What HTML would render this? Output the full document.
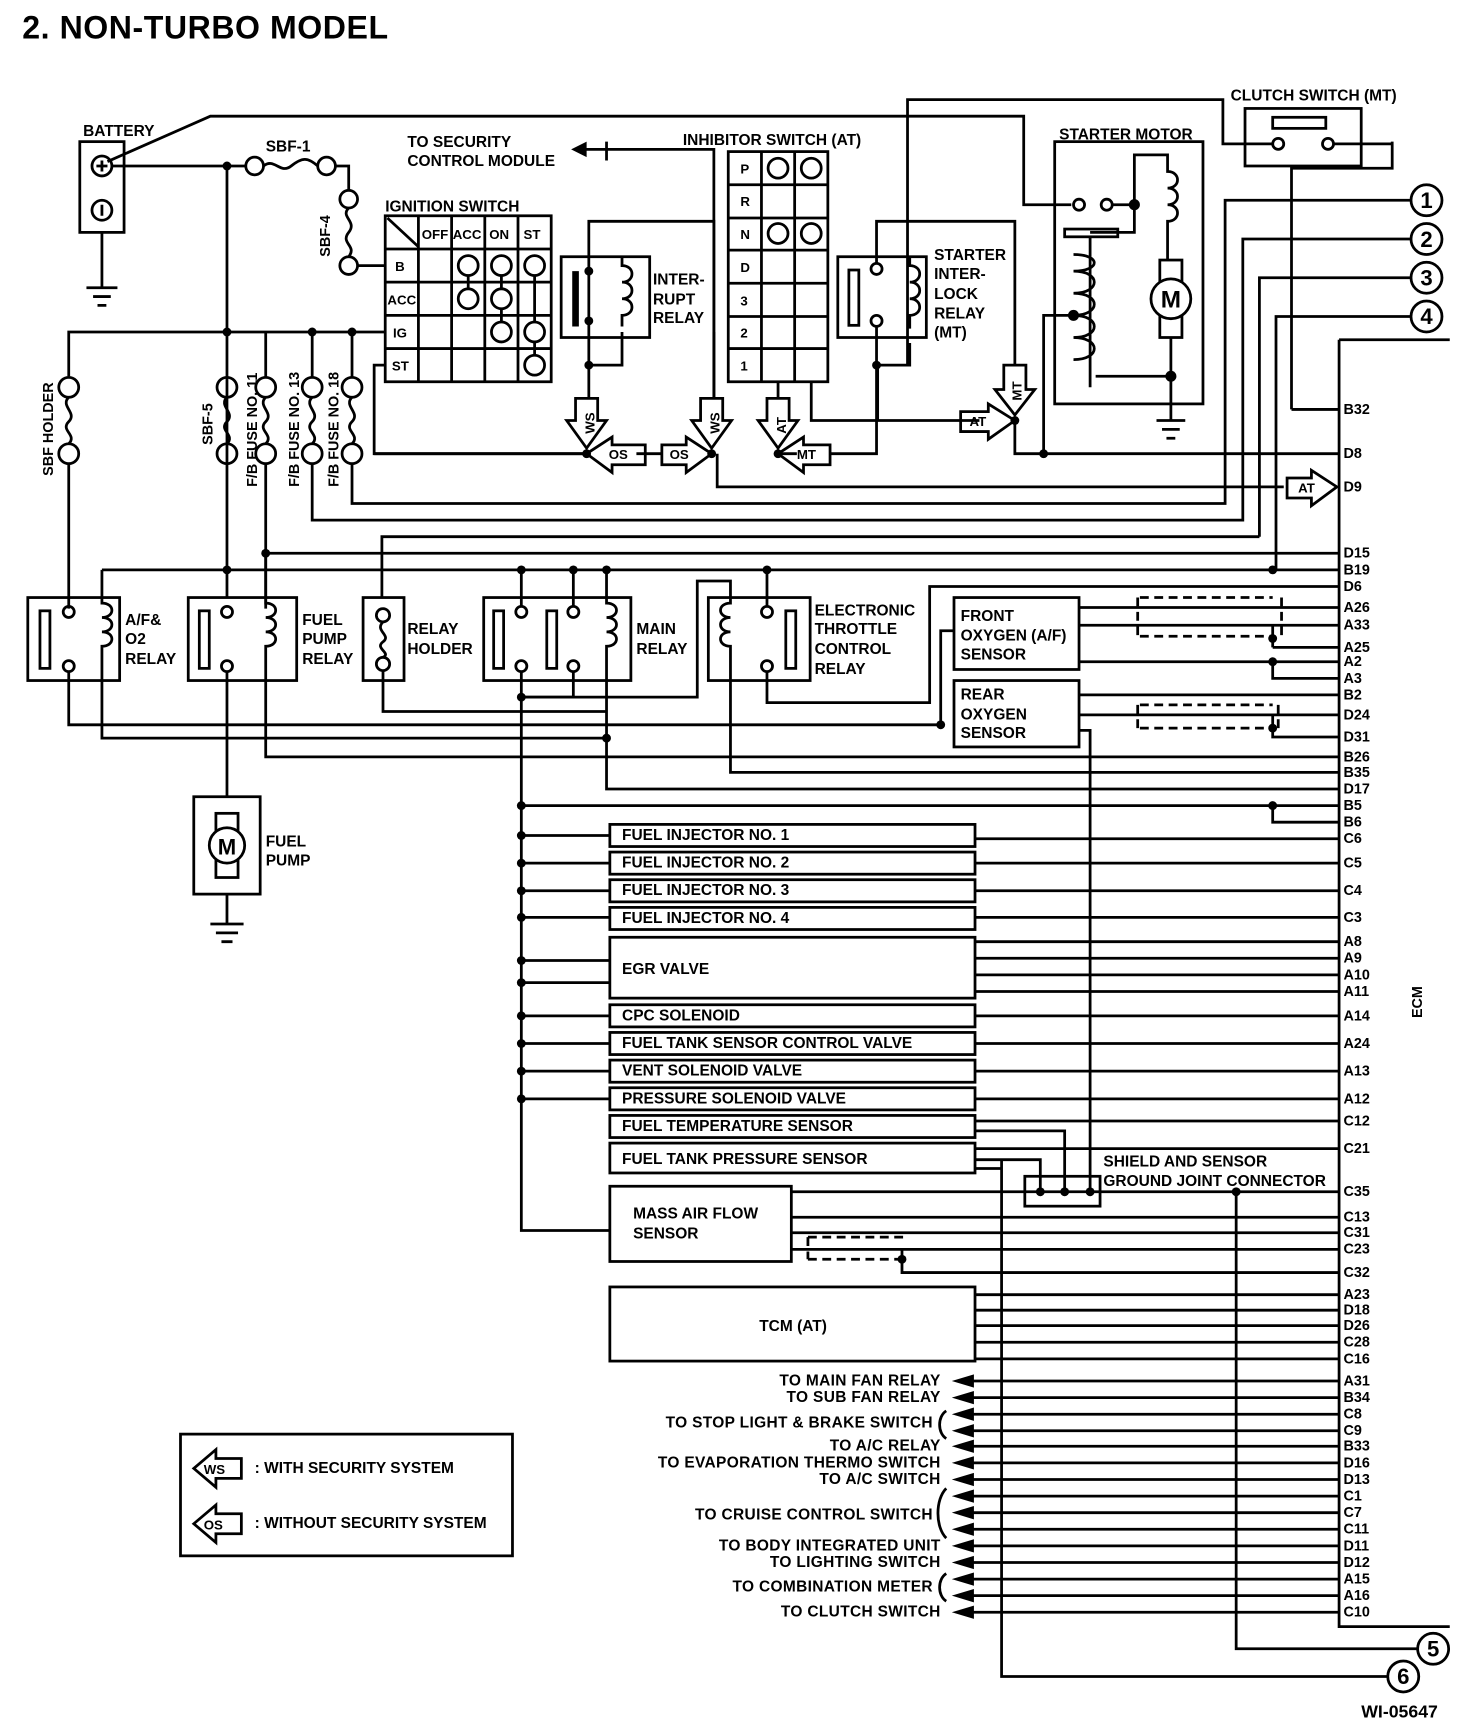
<!DOCTYPE html>
<html><head><meta charset="utf-8"><style>
html,body{margin:0;padding:0;background:#fff}
svg{display:block}
text{font-family:"Liberation Sans",sans-serif;font-weight:bold;fill:#000}
</style></head><body>
<svg width="1472" height="1734" viewBox="0 0 1330 1567" xmlns="http://www.w3.org/2000/svg">
<g fill="none" stroke="#000" stroke-width="2.5">
<!-- battery -->
<rect x="72" y="128" width="40" height="82"/>
<circle cx="92" cy="150" r="9"/><circle cx="92" cy="190" r="9"/>
<path d="M87 150h10M92 145v10M92 185v10"/>
<path d="M92 210v50M78 260h28M84 268h16M88 276h8"/>
<path d="M97 146L190 105H925V185H968"/>
<circle cx="975" cy="185" r="5"/><circle cx="1000" cy="185" r="5"/>
<path d="M1005 185H1025"/>
<path d="M101 150H222"/>
<circle cx="230" cy="150" r="8"/><circle cx="295" cy="150" r="8"/>
<path d="M238 150c10-8 15 8 25 0s15 -8 24 0"/>
<path d="M303 150H315V172"/>
<circle cx="315" cy="180" r="8"/><circle cx="315" cy="240" r="8"/>
<path d="M315 188c-8 8 8 12 0 22s8 12 0 22"/>
<path d="M323 240H348"/>
<path d="M205 150V515"/>
<!-- ignition switch -->
<rect x="348" y="195" width="150" height="150"/>
<path d="M378 195V345M408 195V345M438 195V345M468 195V345M348 225H498M348 255H498M348 285H498M348 315H498M350 197L378 223"/>
<circle cx="423" cy="240" r="9"/><circle cx="453" cy="240" r="9"/><circle cx="483" cy="240" r="9"/>
<circle cx="423" cy="270" r="9"/><circle cx="453" cy="270" r="9"/>
<circle cx="453" cy="300" r="9"/><circle cx="483" cy="300" r="9"/><circle cx="483" cy="330" r="9"/>
<path d="M423 249V261M453 249V261M453 279V291M483 249V291M483 309V321"/>
<path d="M62 340V300H348M282 300V342M318 300V342M205 300"/>
<path d="M348 330H338V410H530"/>
<!-- fuses -->
<circle cx="62" cy="350" r="9"/><circle cx="62" cy="410" r="9"/><path d="M62 359c-8 8 8 14 0 22s8 12 0 20"/>
<circle cx="205" cy="350" r="9"/><circle cx="205" cy="410" r="9"/><path d="M205 359c-8 8 8 14 0 22s8 12 0 20"/>
<circle cx="240" cy="350" r="9"/><circle cx="240" cy="410" r="9"/><path d="M240 359c-8 8 8 14 0 22s8 12 0 20"/>
<circle cx="282" cy="350" r="9"/><circle cx="282" cy="410" r="9"/><path d="M282 359c-8 8 8 14 0 22s8 12 0 20"/>
<circle cx="318" cy="350" r="9"/><circle cx="318" cy="410" r="9"/><path d="M318 359c-8 8 8 14 0 22s8 12 0 20"/>
<path d="M240 341V300M62 419V550M240 419V550M282 419V470H1123V216H1275M318 419V455H1107V181H1275"/>
<path d="M1138 485V251H1275M1153 515V286H1275M345 540V485H1138"/>
<path d="M1167 370V152H1258V128"/>
<!-- clutch switch -->
<rect x="1125" y="98" width="105" height="52"/><rect x="1150" y="106" width="48" height="10"/>
<circle cx="1155" cy="130" r="5"/><circle cx="1200" cy="130" r="5"/>
<path d="M820 330V90H1105V130H1150M1205 130H1258"/>
<path d="M1167 370H1210M1210 307H1310M1210 307V1470H1310"/>
<!-- numbered circles -->
<circle cx="1289" cy="181" r="14"/><circle cx="1289" cy="216" r="14"/><circle cx="1289" cy="251" r="14"/><circle cx="1289" cy="286" r="14"/>
<circle cx="1295" cy="1490" r="14"/><circle cx="1268" cy="1515" r="14"/>
<path d="M1117 1077V1490H1281M905 1048V1515H1254"/>
<!-- interrupt relay -->
<rect x="507" y="232" width="80" height="73"/>
<path d="M520 245V295" stroke-width="6"/>
<path d="M532 330V200H645V360M532 245V200M562 232v8c12 0 12 15 0 15 12 0 12 15 0 15 12 0 12 15 0 15v10M532 330V360M532 330H562V300"/>
<path d="M548 145V128M520 135H548" /><path d="M645 360V135H548"/>
<!-- inhibitor -->
<rect x="658" y="137" width="90" height="208"/>
<path d="M688 137V345M718 137V345M658 167H748M658 197H748M658 226H748M658 256H748M658 286H748M658 315H748"/>
<circle cx="703" cy="152" r="9"/><circle cx="733" cy="152" r="9"/><circle cx="703" cy="211" r="9"/><circle cx="733" cy="211" r="9"/>
<path d="M703 345V360M733 345V380H885M793 380V330"/>
<!-- starter interlock relay -->
<rect x="757" y="232" width="80" height="73"/><rect x="767" y="244" width="9" height="50"/>
<circle cx="792" cy="243" r="5"/><circle cx="792" cy="290" r="5"/>
<path d="M792 238V200H917V330M792 295V410H750M822 232v8c12 0 12 15 0 15 12 0 12 15 0 15 12 0 12 15 0 15v12M822 310V330H792"/>
<path d="M917 380V410H1210M943 410V285H970"/>
<!-- starter motor -->
<rect x="953" y="128" width="134" height="237"/>
<path d="M1025 185V140H1055V155c12 0 12 15 0 15 12 0 12 15 0 15 12 0 12 15 0 15V235M1025 185V210H985"/>
<rect x="962" y="207" width="48" height="7"/><path d="M985 214V350"/>
<path d="M970 230c25 0 25 15 0 15c25 0 25 20 0 20c25 0 25 20 0 20c25 0 25 20 0 20c25 0 25 20 0 20"/>
<rect x="1048" y="235" width="20" height="70"/><circle cx="1058" cy="270" r="18" fill="#fff"/>
<path d="M1058 305V380M990 340H1058M1045 380h26M1050 388h16M1054 396h8"/>
<path d="M338 410H530M575 410H598M648 410V440H1160M703 410H720M645 300V360"/>
<path d="M240 500H1210M92 515H1210M205 515V540"/>
<!-- A/F relay -->
<rect x="25" y="540" width="83" height="75"/><rect x="36" y="552" width="9" height="52"/>
<circle cx="62" cy="553" r="5"/><circle cx="62" cy="602" r="5"/>
<path d="M92 515V545c12 0 12 13 0 13 12 0 12 13 0 13 12 0 12 13 0 13V615"/>
<path d="M62 607V655H850M92 615V667H548"/>
<!-- fuel pump relay -->
<rect x="170" y="540" width="98" height="75"/><rect x="180" y="552" width="9" height="52"/>
<circle cx="205" cy="553" r="5"/><circle cx="205" cy="602" r="5"/>
<path d="M240 500V545c12 0 12 13 0 13 12 0 12 13 0 13 12 0 12 13 0 13V615M240 615V684H1210"/>
<path d="M205 607V720"/>
<rect x="175" y="720" width="60" height="88"/><rect x="195" y="735" width="20" height="58"/><circle cx="205" cy="764" r="16" fill="#fff"/>
<path d="M205 808V835M190 835h30M195 843h20M200 851h10"/>
<!-- relay holder -->
<rect x="328" y="540" width="37" height="75"/>
<circle cx="346" cy="556" r="6"/><circle cx="346" cy="600" r="6"/><path d="M346 562c-8 8 8 12 0 18s8 10 0 14M346 606V643H548"/>
<!-- main relay -->
<rect x="437" y="540" width="133" height="75"/><rect x="446" y="552" width="9" height="52"/><rect x="494" y="552" width="9" height="52"/>
<circle cx="471" cy="553" r="5"/><circle cx="471" cy="602" r="5"/><circle cx="518" cy="553" r="5"/><circle cx="518" cy="602" r="5"/>
<path d="M471 515V548M518 515V548M548 515V545c12 0 12 13 0 13 12 0 12 13 0 13 12 0 12 13 0 13V615"/>
<path d="M471 607V1112H551M518 607V630H471M548 615V713H1210"/>
<path d="M471 630H630V525H660V540"/>
<!-- ETC relay -->
<rect x="640" y="540" width="92" height="75"/><rect x="710" y="552" width="9" height="52"/>
<circle cx="693" cy="553" r="5"/><circle cx="693" cy="602" r="5"/>
<path d="M693 515V548M693 607V635H840V530H1210M660 540v5c-12 0-12 13 0 13-12 0-12 13 0 13-12 0-12 13 0 13V615M660 615V698H1210"/>
<!-- O2 sensors -->
<rect x="862" y="540" width="113" height="65"/><rect x="862" y="615" width="113" height="60"/>
<path d="M975 549H1210M975 565H1210M975 598H1210M1150 585H1210M1150 565V585M1150 598V613H1210"/>
<path d="M850 655V570H862M975 628H1210M975 646H1210M1150 646V666H1210M975 660H985V1077"/>
<path d="M1150 728V743H1210M471 728H1210" />
<path stroke-dasharray="8,5" d="M1030 540H1150M1030 575H1150M1028 540V575M1158 540V575M1030 637H1150M1030 658H1150M1028 637V658M1155 637V658"/>
<!-- component boxes -->
<rect x="551" y="745" width="330" height="20"/><rect x="551" y="770" width="330" height="20"/><rect x="551" y="795" width="330" height="20"/><rect x="551" y="820" width="330" height="20"/>
<rect x="551" y="847" width="330" height="55"/>
<rect x="551" y="908" width="330" height="20"/><rect x="551" y="933" width="330" height="20"/><rect x="551" y="958" width="330" height="20"/><rect x="551" y="983" width="330" height="20"/><rect x="551" y="1008" width="330" height="20"/><rect x="551" y="1033" width="330" height="27"/>
<rect x="551" y="1072" width="164" height="68"/>
<rect x="551" y="1163" width="330" height="67"/>
<path d="M471 755H551M471 780H551M471 805H551M471 829H551M471 868H551M471 888H551M471 918H551M471 943H551M471 968H551M471 993H551"/>
<path d="M881 758H1210M881 780H1210M881 805H1210M881 829H1210M881 851H1210M881 866H1210M881 881H1210M881 896H1210M881 918H1210M881 943H1210M881 968H1210M881 993H1210M881 1013H1210M881 1038H1210"/>
<path d="M881 1022H962V1077M881 1048H940V1077M881 1056H905"/>
<rect x="926" y="1063" width="68" height="27"/>
<path d="M715 1077H1210M715 1100H1210M715 1114H1210M715 1129H1210M815 1129V1150H1210"/>
<path stroke-dasharray="8,5" d="M730 1118H818M730 1138H818M730 1118V1138"/>
<path d="M881 1170H1210M881 1184H1210M881 1198H1210M881 1213H1210M881 1228H1210"/>
<path d="M870 1248H1210M870 1263H1210M870 1278H1210M870 1293H1210M870 1307H1210M870 1322H1210M870 1337H1210M870 1352H1210M870 1367H1210M870 1382H1210M870 1397H1210M870 1412H1210M870 1427H1210M870 1442H1210M870 1457H1210"/>
<path d="M855 1275c-8 5-8 20 0 25M855 1345c-10 10-10 35 0 45M855 1422c-8 5-8 20 0 25"/>
<!-- legend -->
<rect x="163" y="1296" width="300" height="110"/>
<path d="M175 1327L195 1310V1318H218V1336H195V1344Z"/>
<path d="M175 1377L195 1360V1368H218V1386H195V1394Z"/>
<path d="M520 360H540V380H548L530 405L512 380H520Z M633 360H653V380H661L643 405L625 380H633Z M693 360H713V380H721L703 405L685 380H693Z M907 330H927V352H935L917 375L899 352H907Z"/>
<path d="M530 410L553 395V402H583V420H553V427Z M643 410L620 395V402H598V420H620V427Z M703 410L726 395V402H750V420H726V427Z M917 380L893 365V372H868V390H893V397Z M1208 440L1185 425V432H1163V450H1185V457Z"/>
</g>
<g fill="#000">
<circle cx="205" cy="150" r="4"/><circle cx="205" cy="300" r="4"/><circle cx="282" cy="300" r="4"/><circle cx="318" cy="300" r="4"/>
<circle cx="532" cy="245" r="4"/><circle cx="532" cy="290" r="4"/><circle cx="532" cy="330" r="4"/><circle cx="792" cy="330" r="4"/>
<circle cx="1025" cy="185" r="5"/><circle cx="970" cy="285" r="5"/><circle cx="1058" cy="340" r="5"/>
<circle cx="943" cy="410" r="4"/><circle cx="530" cy="410" r="4"/><circle cx="643" cy="410" r="4"/><circle cx="703" cy="410" r="4"/><circle cx="917" cy="380" r="4"/>
<circle cx="240" cy="500" r="4"/><circle cx="205" cy="515" r="4"/><circle cx="471" cy="515" r="4"/><circle cx="518" cy="515" r="4"/><circle cx="548" cy="515" r="4"/><circle cx="693" cy="515" r="4"/><circle cx="1150" cy="515" r="4"/>
<circle cx="471" cy="630" r="4"/><circle cx="548" cy="667" r="4"/><circle cx="850" cy="655" r="4"/><circle cx="1150" cy="577" r="4"/><circle cx="1150" cy="598" r="4"/><circle cx="1150" cy="658" r="4"/><circle cx="1150" cy="728" r="4"/>
<circle cx="471" cy="728" r="4"/><circle cx="471" cy="755" r="4"/><circle cx="471" cy="780" r="4"/><circle cx="471" cy="805" r="4"/><circle cx="471" cy="829" r="4"/><circle cx="471" cy="868" r="4"/><circle cx="471" cy="888" r="4"/><circle cx="471" cy="918" r="4"/><circle cx="471" cy="943" r="4"/><circle cx="471" cy="968" r="4"/><circle cx="471" cy="993" r="4"/>
<circle cx="940" cy="1077" r="4"/><circle cx="962" cy="1077" r="4"/><circle cx="985" cy="1077" r="4"/><circle cx="1117" cy="1077" r="4"/><circle cx="815" cy="1138" r="4"/>
<path d="M860 1248l20-6v12z M860 1263l20-6v12z M860 1278l20-6v12z M860 1293l20-6v12z M860 1307l20-6v12z M860 1322l20-6v12z M860 1337l20-6v12z M860 1352l20-6v12z M860 1367l20-6v12z M860 1382l20-6v12z M860 1397l20-6v12z M860 1412l20-6v12z M860 1427l20-6v12z M860 1442l20-6v12z M860 1457l20-6v12z"/>
<path d="M516 135l14-7v14z"/>
</g>
<text x="20" y="35" font-size="29" letter-spacing="0.5">2.  NON-TURBO MODEL</text>
<g font-size="14">
<text x="75" y="123">BATTERY</text><text x="240" y="137">SBF-1</text>
<text x="368" y="133">TO SECURITY</text><text x="368" y="150">CONTROL MODULE</text>
<text x="617" y="131">INHIBITOR SWITCH (AT)</text><text x="957" y="126">STARTER MOTOR</text><text x="1112" y="91">CLUTCH SWITCH (MT)</text>
<text x="348" y="191">IGNITION SWITCH</text>
<text x="590" y="257">INTER-</text><text x="590" y="275">RUPT</text><text x="590" y="292">RELAY</text>
<text x="844" y="235">STARTER</text><text x="844" y="252">INTER-</text><text x="844" y="270">LOCK</text><text x="844" y="288">RELAY</text><text x="844" y="305">(MT)</text>
<text x="113" y="565">A/F&amp;</text><text x="113" y="582">O2</text><text x="113" y="600">RELAY</text>
<text x="273" y="565">FUEL</text><text x="273" y="582">PUMP</text><text x="273" y="600">RELAY</text>
<text x="368" y="573">RELAY</text><text x="368" y="591">HOLDER</text>
<text x="575" y="573">MAIN</text><text x="575" y="591">RELAY</text>
<text x="736" y="556">ELECTRONIC</text><text x="736" y="573">THROTTLE</text><text x="736" y="591">CONTROL</text><text x="736" y="609">RELAY</text>
<text x="868" y="561">FRONT</text><text x="868" y="579">OXYGEN (A/F)</text><text x="868" y="596">SENSOR</text>
<text x="868" y="632">REAR</text><text x="868" y="650">OXYGEN</text><text x="868" y="667">SENSOR</text>
<text x="240" y="765">FUEL</text><text x="240" y="782">PUMP</text>
<text x="562" y="759">FUEL INJECTOR NO. 1</text><text x="562" y="784">FUEL INJECTOR NO. 2</text><text x="562" y="809">FUEL INJECTOR NO. 3</text><text x="562" y="834">FUEL INJECTOR NO. 4</text>
<text x="562" y="880">EGR VALVE</text><text x="562" y="922">CPC SOLENOID</text><text x="562" y="947">FUEL TANK SENSOR CONTROL VALVE</text><text x="562" y="972">VENT SOLENOID VALVE</text><text x="562" y="997">PRESSURE SOLENOID VALVE</text><text x="562" y="1022">FUEL TEMPERATURE SENSOR</text><text x="562" y="1052">FUEL TANK PRESSURE SENSOR</text>
<text x="572" y="1101">MASS AIR FLOW</text><text x="572" y="1119">SENSOR</text><text x="686" y="1203">TCM (AT)</text>
<text x="997" y="1054">SHIELD AND SENSOR</text><text x="997" y="1072">GROUND JOINT CONNECTOR</text>
<text x="230" y="1331">: WITH SECURITY SYSTEM</text><text x="230" y="1381">: WITHOUT SECURITY SYSTEM</text>
<text x="1230" y="1552" font-size="16">WI-05647</text>
</g>
<g font-size="14" text-anchor="end" letter-spacing="0.3">
<text x="850" y="1252">TO MAIN FAN RELAY</text><text x="850" y="1267">TO SUB FAN RELAY</text><text x="843" y="1290">TO STOP LIGHT &amp; BRAKE SWITCH</text><text x="850" y="1311">TO A/C RELAY</text><text x="850" y="1326">TO EVAPORATION THERMO SWITCH</text><text x="850" y="1341">TO A/C SWITCH</text><text x="843" y="1373">TO CRUISE CONTROL SWITCH</text><text x="850" y="1401">TO BODY INTEGRATED UNIT</text><text x="850" y="1416">TO LIGHTING SWITCH</text><text x="843" y="1438">TO COMBINATION METER</text><text x="850" y="1461">TO CLUTCH SWITCH</text>
</g>
<g font-size="12">
<text x="381" y="216">OFF</text><text x="409" y="216">ACC</text><text x="442" y="216">ON</text><text x="473" y="216">ST</text>
<text x="357" y="245">B</text><text x="350" y="275">ACC</text><text x="355" y="305">IG</text><text x="354" y="335">ST</text>
<text x="669" y="157">P</text><text x="669" y="186">R</text><text x="669" y="216">N</text><text x="669" y="246">D</text><text x="669" y="276">3</text><text x="669" y="305">2</text><text x="669" y="335">1</text>
<text x="550" y="415">OS</text><text x="605" y="415">OS</text><text x="720" y="415">MT</text><text x="876" y="385">AT</text><text x="1173" y="445">AT</text>
<text x="184" y="1332">WS</text><text x="184" y="1382">OS</text>
</g>
<g font-size="13">
<text x="1214" y="374">B32</text><text x="1214" y="414">D8</text><text x="1214" y="444">D9</text><text x="1214" y="504">D15</text><text x="1214" y="519">B19</text><text x="1214" y="534">D6</text><text x="1214" y="553">A26</text><text x="1214" y="569">A33</text><text x="1214" y="589">A25</text><text x="1214" y="602">A2</text><text x="1214" y="617">A3</text><text x="1214" y="632">B2</text><text x="1214" y="650">D24</text><text x="1214" y="670">D31</text><text x="1214" y="688">B26</text><text x="1214" y="702">B35</text><text x="1214" y="717">D17</text><text x="1214" y="732">B5</text><text x="1214" y="747">B6</text><text x="1214" y="762">C6</text><text x="1214" y="784">C5</text><text x="1214" y="809">C4</text><text x="1214" y="833">C3</text><text x="1214" y="855">A8</text><text x="1214" y="870">A9</text><text x="1214" y="885">A10</text><text x="1214" y="900">A11</text><text x="1214" y="922">A14</text><text x="1214" y="947">A24</text><text x="1214" y="972">A13</text><text x="1214" y="997">A12</text><text x="1214" y="1017">C12</text><text x="1214" y="1042">C21</text><text x="1214" y="1081">C35</text><text x="1214" y="1104">C13</text><text x="1214" y="1118">C31</text><text x="1214" y="1133">C23</text><text x="1214" y="1154">C32</text><text x="1214" y="1174">A23</text><text x="1214" y="1188">D18</text><text x="1214" y="1202">D26</text><text x="1214" y="1217">C28</text><text x="1214" y="1232">C16</text><text x="1214" y="1252">A31</text><text x="1214" y="1267">B34</text><text x="1214" y="1282">C8</text><text x="1214" y="1297">C9</text><text x="1214" y="1311">B33</text><text x="1214" y="1326">D16</text><text x="1214" y="1341">D13</text><text x="1214" y="1356">C1</text><text x="1214" y="1371">C7</text><text x="1214" y="1386">C11</text><text x="1214" y="1401">D11</text><text x="1214" y="1416">D12</text><text x="1214" y="1431">A15</text><text x="1214" y="1446">A16</text><text x="1214" y="1461">C10</text>
</g>
<g font-size="20" text-anchor="middle">
<text x="1289" y="188">1</text><text x="1289" y="223">2</text><text x="1289" y="258">3</text><text x="1289" y="293">4</text><text x="1295" y="1497">5</text><text x="1268" y="1522">6</text>
<text x="1058" y="278" font-size="22">M</text><text x="205" y="772" font-size="20">M</text>
</g>
<g font-size="13">
<text transform="translate(48 430) rotate(-90)">SBF HOLDER</text>
<text transform="translate(192 402) rotate(-90)">SBF-5</text>
<text transform="translate(232 440) rotate(-90)">F/B FUSE NO. 11</text>
<text transform="translate(270 440) rotate(-90)">F/B FUSE NO. 13</text>
<text transform="translate(306 440) rotate(-90)">F/B FUSE NO. 18</text>
<text transform="translate(298 232) rotate(-90)">SBF-4</text>
<text transform="translate(1285 920) rotate(-90)">ECM</text>
</g>
<g font-size="12">
<text transform="translate(537 392) rotate(-90)">WS</text><text transform="translate(650 392) rotate(-90)">WS</text><text transform="translate(710 392) rotate(-90)">AT</text><text transform="translate(923 362) rotate(-90)">MT</text>
</g>
</svg>
</body></html>
